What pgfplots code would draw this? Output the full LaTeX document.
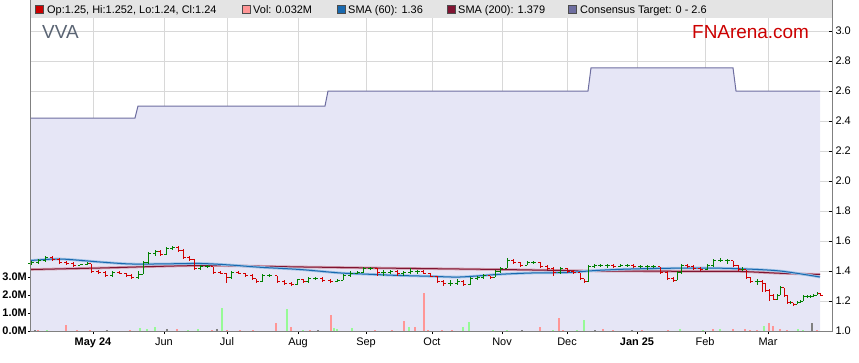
\documentclass[border=0pt]{standalone}
\usepackage{pgfplots}
\pgfplotsset{compat=1.18}
\usepackage{pgfplotstable}
\usepackage{fontspec}
\setmainfont{Liberation Sans}
\definecolor{upg}{RGB}{0,128,0}
\definecolor{dnr}{RGB}{210,0,0}
\definecolor{volg}{RGB}{150,250,150}
\definecolor{volr}{RGB}{255,150,150}
\definecolor{volk}{RGB}{128,128,128}
\definecolor{lav}{RGB}{230,230,246}
\definecolor{tgt}{RGB}{110,110,160}
\definecolor{smab}{RGB}{25,105,175}
\definecolor{smabh}{RGB}{160,195,230}
\definecolor{smar}{RGB}{128,20,50}
\definecolor{smarh}{RGB}{210,160,175}
\definecolor{band}{RGB}{228,228,228}
\definecolor{gridc}{RGB}{216,216,216}
\definecolor{fnred}{RGB}{204,0,0}
\definecolor{vvac}{RGB}{90,100,115}
\definecolor{axc}{RGB}{128,128,128}
\pgfdeclareplotmark{ctick}{\pgfpathmoveto{\pgfqpoint{0pt}{0pt}}\pgfpathlineto{\pgfqpoint{2.5bp}{0pt}}\pgfusepathqstroke}
\pgfdeclareplotmark{otick}{\pgfpathmoveto{\pgfqpoint{0pt}{0pt}}\pgfpathlineto{\pgfqpoint{-2.5bp}{0pt}}\pgfusepathqstroke}
\pgfplotstableread{
x o h l c
31 1.45 1.47 1.44 1.46
38 1.46 1.48 1.45 1.47
45 1.47 1.50 1.46 1.49
52 1.49 1.50 1.47 1.48
59 1.48 1.49 1.45 1.46
66 1.46 1.47 1.44 1.45
73 1.45 1.46 1.43 1.44
80 1.44 1.45 1.44 1.445
87 1.445 1.46 1.44 1.45
91 1.45 1.45 1.39 1.40
98 1.40 1.41 1.38 1.39
105 1.39 1.40 1.36 1.37
112 1.37 1.40 1.36 1.39
119 1.39 1.40 1.38 1.385
126 1.385 1.39 1.36 1.37
131 1.37 1.38 1.35 1.36
138 1.36 1.40 1.35 1.38
143 1.38 1.47 1.38 1.46
148 1.46 1.53 1.45 1.52
155 1.52 1.54 1.50 1.53
160 1.53 1.54 1.50 1.51
166 1.51 1.56 1.51 1.55
172 1.55 1.57 1.54 1.56
178 1.56 1.57 1.53 1.54
183 1.54 1.55 1.48 1.49
189 1.49 1.50 1.47 1.48
194 1.48 1.48 1.41 1.42
200 1.42 1.44 1.41 1.43
207 1.43 1.44 1.42 1.43
213 1.43 1.43 1.38 1.39
220 1.39 1.40 1.38 1.385
226 1.385 1.39 1.32 1.36
231 1.36 1.40 1.35 1.39
238 1.39 1.40 1.38 1.385
245 1.385 1.39 1.36 1.37
252 1.37 1.38 1.34 1.35
256 1.35 1.35 1.32 1.33
262 1.33 1.38 1.33 1.37
269 1.37 1.38 1.36 1.37
277 1.37 1.37 1.32 1.33
284 1.33 1.34 1.31 1.32
291 1.32 1.33 1.30 1.31
297 1.31 1.35 1.31 1.345
303 1.345 1.35 1.32 1.33
308 1.33 1.36 1.32 1.35
315 1.35 1.36 1.34 1.35
322 1.35 1.36 1.33 1.34
330 1.34 1.35 1.32 1.33
337 1.33 1.35 1.33 1.34
343 1.34 1.38 1.34 1.37
350 1.37 1.40 1.36 1.385
357 1.385 1.40 1.38 1.39
363 1.39 1.43 1.39 1.42
370 1.42 1.43 1.41 1.42
377 1.42 1.42 1.37 1.39
383 1.39 1.41 1.37 1.39
390 1.39 1.41 1.38 1.40
397 1.40 1.41 1.37 1.385
403 1.385 1.40 1.37 1.39
410 1.39 1.42 1.38 1.40
417 1.40 1.41 1.38 1.40
423 1.40 1.41 1.38 1.385
430 1.385 1.39 1.36 1.365
437 1.365 1.37 1.32 1.33
443 1.33 1.34 1.30 1.32
450 1.32 1.34 1.30 1.32
457 1.32 1.35 1.31 1.33
463 1.33 1.34 1.30 1.31
470 1.31 1.36 1.31 1.35
477 1.35 1.37 1.34 1.36
483 1.36 1.38 1.35 1.37
490 1.37 1.37 1.35 1.36
495 1.36 1.41 1.36 1.40
500 1.40 1.43 1.39 1.42
507 1.42 1.49 1.42 1.47
513 1.47 1.48 1.45 1.46
520 1.46 1.46 1.43 1.44
527 1.44 1.47 1.44 1.46
533 1.46 1.47 1.45 1.46
540 1.46 1.46 1.42 1.43
547 1.43 1.44 1.41 1.42
553 1.42 1.43 1.37 1.39
560 1.39 1.43 1.38 1.42
567 1.42 1.42 1.39 1.40
573 1.40 1.41 1.38 1.39
580 1.39 1.39 1.34 1.35
584 1.35 1.35 1.32 1.33
588 1.33 1.44 1.33 1.43
594 1.43 1.45 1.42 1.44
600 1.44 1.45 1.43 1.44
607 1.44 1.45 1.42 1.44
613 1.44 1.45 1.42 1.43
620 1.43 1.45 1.43 1.44
627 1.44 1.45 1.43 1.44
633 1.44 1.45 1.42 1.43
640 1.43 1.44 1.42 1.43
647 1.43 1.44 1.41 1.43
653 1.43 1.44 1.42 1.43
660 1.43 1.43 1.38 1.39
667 1.39 1.40 1.34 1.35
673 1.35 1.36 1.33 1.34
677 1.34 1.40 1.34 1.39
681 1.39 1.45 1.38 1.44
687 1.44 1.45 1.42 1.43
693 1.43 1.44 1.41 1.42
700 1.42 1.43 1.40 1.41
707 1.41 1.45 1.41 1.44
713 1.44 1.48 1.43 1.47
720 1.47 1.49 1.46 1.47
727 1.47 1.48 1.45 1.47
733 1.47 1.47 1.43 1.44
738 1.44 1.44 1.40 1.41
742 1.41 1.43 1.40 1.41
746 1.41 1.41 1.35 1.36
750 1.36 1.36 1.32 1.33
757 1.33 1.35 1.31 1.33
762 1.33 1.34 1.26 1.32
765 1.32 1.32 1.26 1.27
769 1.27 1.28 1.20 1.24
773 1.24 1.25 1.21 1.21
777 1.21 1.25 1.21 1.24
780 1.24 1.30 1.24 1.29
784 1.29 1.29 1.23 1.24
787 1.24 1.24 1.18 1.19
790 1.19 1.20 1.18 1.19
793 1.19 1.19 1.17 1.18
797 1.18 1.20 1.18 1.19
800 1.19 1.21 1.19 1.20
803 1.20 1.24 1.20 1.23
807 1.23 1.24 1.22 1.23
810 1.23 1.24 1.22 1.23
813 1.23 1.25 1.23 1.24
817 1.24 1.26 1.24 1.25
820 1.25 1.252 1.24 1.24
}\ohlc
\begin{document}
\begin{tikzpicture}
\fill[band] (30bp,345bp) rectangle (832bp,363bp);
\begin{axis}[
  at={(31bp,32bp)}, anchor=south west, scale only axis,
  width=801bp, height=313bp,
  xmin=31, xmax=832, ymin=1.0, ymax=3.0867,
  axis line style={draw=none},
  xtick pos=bottom, ytick pos=right,
  xtick={93,164,227,298,366,432,502,567,637,705,768},
  xticklabels={\textbf{May 24},Jun,Jul,Aug,Sep,Oct,Nov,Dec,\textbf{Jan 25},Feb,Mar},
  ytick={1.0,1.2,1.4,1.6,1.8,2.0,2.2,2.4,2.6,2.8,3.0},
  yticklabel style={/pgf/number format/.cd, fixed, fixed zerofill, precision=1, assume math mode=true},
  ticklabel style={font=\fontsize{11}{13}\selectfont, text=black},
  xticklabel style={yshift=-3bp},
  tick style={black, line width=0.8bp},
  major x tick style={draw=none},
  major tick length=3.5bp,
  tick align=inside,
  grid=major, major grid style={gridc, line width=0.8bp},
]
\addplot[draw=none, fill=lav] coordinates {(31,2.42)(135,2.42)(138,2.5)(325,2.5)(328,2.6)(588,2.6)(591,2.755)(733,2.755)(736,2.6)(820,2.6)} \closedcycle;
\addplot[tgt, line width=1bp] coordinates {(31,2.42)(135,2.42)(138,2.5)(325,2.5)(328,2.6)(588,2.6)(591,2.755)(733,2.755)(736,2.6)(820,2.6)};
\addplot[smarh, line width=2.6bp, smooth] coordinates {(31,1.41)(100,1.42)(200,1.436)(300,1.427)(400,1.418)(500,1.41)(600,1.40)(700,1.398)(740,1.397)(780,1.385)(820,1.377)};
\addplot[smar, line width=1bp, smooth] coordinates {(31,1.41)(100,1.42)(200,1.436)(300,1.427)(400,1.418)(500,1.41)(600,1.40)(700,1.398)(740,1.397)(780,1.385)(820,1.377)};
\addplot[smabh, line width=2.6bp, smooth] coordinates {(31,1.47)(60,1.48)(100,1.46)(130,1.447)(160,1.447)(200,1.45)(230,1.44)(260,1.425)(300,1.41)(340,1.387)(370,1.378)(400,1.37)(430,1.365)(460,1.36)(500,1.378)(533,1.387)(567,1.39)(600,1.405)(640,1.415)(700,1.42)(740,1.415)(780,1.40)(820,1.36)};
\addplot[smab, line width=1bp, smooth] coordinates {(31,1.47)(60,1.48)(100,1.46)(130,1.447)(160,1.447)(200,1.45)(230,1.44)(260,1.425)(300,1.41)(340,1.387)(370,1.378)(400,1.37)(430,1.365)(460,1.36)(500,1.378)(533,1.387)(567,1.39)(600,1.405)(640,1.415)(700,1.42)(740,1.415)(780,1.40)(820,1.36)};
% up bars
\addplot[color=upg, only marks, mark=ctick, mark options={line width=1bp},
  x filter/.expression={\thisrow{c}<\thisrow{o} ? nan : x},
  error bars/.cd, y dir=both, y explicit, error mark=none, error bar style={upg, line width=1bp}]
  table[x=x, y=c, y error plus expr=\thisrow{h}-\thisrow{c}, y error minus expr=\thisrow{c}-\thisrow{l}] {\ohlc};
\addplot[color=upg, only marks, mark=otick, mark options={line width=1bp},
  x filter/.expression={\thisrow{c}<\thisrow{o} ? nan : x}]
  table[x=x, y=o] {\ohlc};
% down bars
\addplot[color=dnr, only marks, mark=ctick, mark options={line width=1bp},
  x filter/.expression={\thisrow{c}<\thisrow{o} ? x : nan},
  error bars/.cd, y dir=both, y explicit, error mark=none, error bar style={dnr, line width=1bp}]
  table[x=x, y=c, y error plus expr=\thisrow{h}-\thisrow{c}, y error minus expr=\thisrow{c}-\thisrow{l}] {\ohlc};
\addplot[color=dnr, only marks, mark=otick, mark options={line width=1bp},
  x filter/.expression={\thisrow{c}<\thisrow{o} ? x : nan}]
  table[x=x, y=o] {\ohlc};
\end{axis}
\begin{axis}[
  at={(31bp,32bp)}, anchor=south west, scale only axis,
  width=801bp, height=313bp,
  xmin=31, xmax=832, ymin=0, ymax=17.39,
  axis line style={draw=none},
  xtick pos=bottom, ytick pos=left,
  xtick={93,164,227,298,366,432,502,567,637,705,768},
  xticklabels={},
  ytick={0,1,2,3},
  yticklabels={\textbf{0.0M},\textbf{1.0M},\textbf{2.0M},\textbf{3.0M}},
  ticklabel style={font=\fontsize{11}{13}\selectfont, text=black, inner sep=1bp},
  tick style={black, line width=0.8bp},
  major tick length=3bp, tick align=outside,
]
\addplot[ycomb, volg, line width=2.5bp] coordinates {(47,.03)(140,.17)(147,.1)(155,.2)(188,.05)(198,.1)(222,1.27)(287,1.22)(303,.05)(334,.17)(337,.1)(352,.15)(409,.25)(463,.2)(469,.5)(493,.05)(507,.05)(553,.05)(577,.05)(584,.6)(680,.12)(703,.05)(720,.1)(764,.3)(798,.1)(803,.05)};
\addplot[ycomb, volr, line width=2.5bp] coordinates {(38,.05)(66,.33)(77,.05)(90,.05)(130,.05)(177,.1)(212,.05)(227,.05)(240,.05)(253,.05)(276,.44)(291,.22)(310,.05)(331,.89)(375,.05)(392,.05)(404,.55)(415,.2)(424,2.13)(428,.05)(442,.05)(452,.08)(540,.25)(559,.7)(563,.05)(603,.1)(613,.05)(642,.05)(668,.08)(713,.1)(733,.1)(745,.12)(750,.08)(757,.08)(769,.46)(773,.3)(780,.1)(787,.05)(817,.05)};
\addplot[ycomb, volk, line width=2.5bp] coordinates {(35,.05)(107,.05)(167,.1)(217,.12)(318,.05)(522,.05)(595,.05)(632,.05)(812,.46)};
\end{axis}
% frame lines
\draw[axc, line width=0.9bp] (30.5bp,363bp) -- (30.5bp,31.5bp) -- (832bp,31.5bp) -- (832bp,363bp);
% legend band
\begin{scope}[font=\fontsize{11}{13}\selectfont]
\filldraw[fill=fnred, draw=black!70, line width=0.6bp] (35bp,350bp) rectangle (43bp,358bp);
\node[anchor=base west, inner sep=0] at (47bp,349bp) {Op:1.25, Hi:1.252, Lo:1.24, Cl:1.24};
\filldraw[fill=volr, draw=black!70, line width=0.6bp] (242bp,350bp) rectangle (250bp,358bp);
\node[anchor=base west, inner sep=0] at (253bp,349bp) {Vol: 0.032M};
\filldraw[fill=smab, draw=black!70, line width=0.6bp] (337bp,350bp) rectangle (345bp,358bp);
\node[anchor=base west, inner sep=0] at (348bp,349bp) {SMA (60): 1.36};
\filldraw[fill=smar, draw=black!70, line width=0.6bp] (447bp,350bp) rectangle (455bp,358bp);
\node[anchor=base west, inner sep=0] at (458bp,349bp) {SMA (200): 1.379};
\filldraw[fill=tgt, draw=black!70, line width=0.6bp] (568bp,350bp) rectangle (576bp,358bp);
\node[anchor=base west, inner sep=0] at (580bp,349bp) {Consensus Target: 0 - 2.6};
\end{scope}
\node[anchor=base west, inner sep=0, text=vvac, font=\fontsize{19}{22}\selectfont] at (42bp,324bp) {VVA};
\node[anchor=base west, inner sep=0, text=fnred, font=\fontsize{19}{22}\selectfont] at (692bp,324bp) {FNArena.com};
\pgfresetboundingbox
\path[use as bounding box] (0bp,0bp) rectangle (859bp,363bp);
\end{tikzpicture}
\end{document}
